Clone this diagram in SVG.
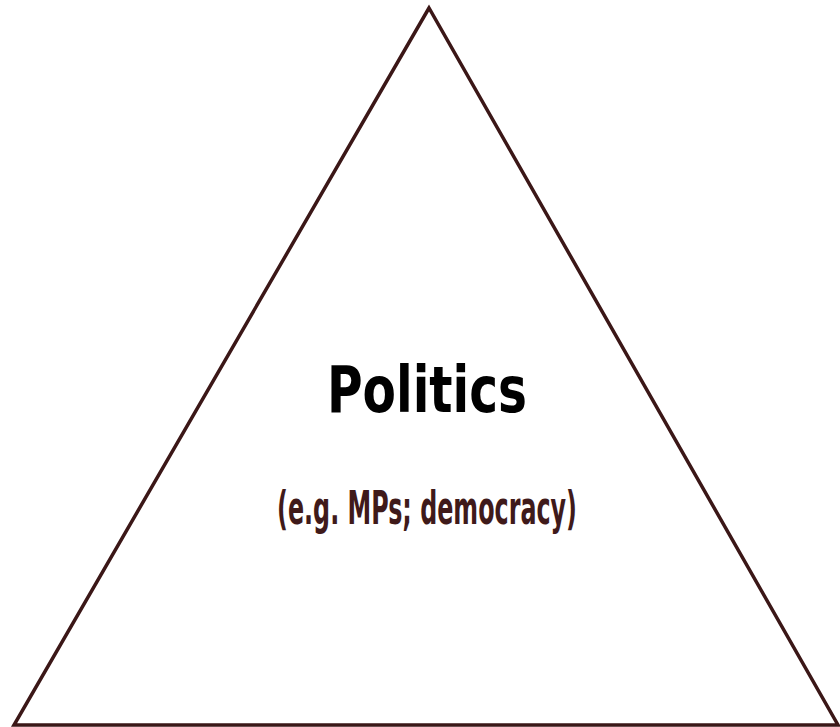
<svg xmlns="http://www.w3.org/2000/svg" width="840" height="727" viewBox="0 0 840 727">
  <style>
    .frame { fill: #ffffff; stroke: #3b1717; stroke-width: 3.5; stroke-linejoin: miter; }
    .title { font-family: "DejaVu Sans Condensed", "DejaVu Sans", sans-serif; font-weight: bold; font-size: 64px; fill: #000000; text-anchor: middle; }
    .sub { font-family: "DejaVu Sans Condensed", "DejaVu Sans", sans-serif; font-weight: bold; font-size: 46px; fill: #3f1a1a; text-anchor: middle; }
  </style>
  <rect width="840" height="727" fill="#ffffff"/>
  <g id="politics">
    <polygon class="frame" points="429,8 14,725 838,725"/>
    <text class="title" x="427" y="412" textLength="200" lengthAdjust="spacingAndGlyphs">Politics</text>
    <text class="sub" x="427" y="524" textLength="300" lengthAdjust="spacingAndGlyphs">(e.g. MPs; democracy)</text>
  </g>
</svg>
